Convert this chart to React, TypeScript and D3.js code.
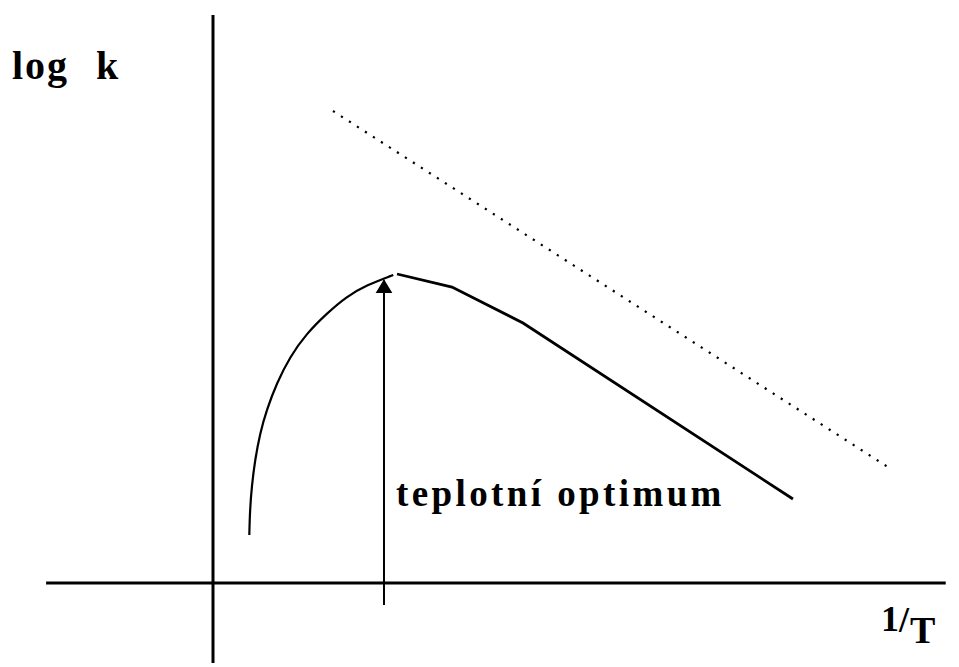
import React, { useEffect, useRef } from "react";
import * as d3 from "d3";

// chart units: x = 1/T, y = log k (arbitrary, axes cross at 0,0)
const riseX = [4.96, 5.05, 5.29, 5.74, 6.42, 7.33, 8.7, 10.52, 12.8, 15.57, 18.2, 20.99, 24.63];
const riseY = [8.45, 12.85, 16.95, 21.65, 26.35, 30.46, 35.16, 39.84, 43.96, 47.48, 50.4, 52.46, 54.23];

const fallX = [25.14, 32.65, 42.35, 79.23];
const fallY = [54.4, 52.11, 45.77, 14.79];

const arrheniusX = [16.39, 92.62];
const arrheniusY = [83.1, 20.07];

const optimumX = 23.36;
const optimumY = [-3.87, 53.3];

const xAxisExtent = [-22.8, 100.1];
const yAxisExtent = [-14.1, 100];

const W = 959;
const H = 667;

const App = () => {
  const ref = useRef<SVGSVGElement>(null);

  useEffect(() => {
    const x = d3.scaleLinear().domain([0, 100]).range([213, 945]);
    const y = d3.scaleLinear().domain([0, 100]).range([583, 15]);

    const svg = d3.select(ref.current);
    svg.selectAll("*").remove();

    // arrow head: 14 long, 18 wide
    svg
      .append("defs")
      .append("marker")
      .attr("id", "head")
      .attr("markerUnits", "userSpaceOnUse")
      .attr("viewBox", "0 0 14 18")
      .attr("refX", 13)
      .attr("refY", 9)
      .attr("markerWidth", 14)
      .attr("markerHeight", 18)
      .attr("orient", "auto")
      .append("path")
      .attr("d", "M0,0.5 L14,9 L0,17.5 Z")
      .attr("fill", "#000");

    // axes
    svg
      .append("line")
      .attr("x1", x(xAxisExtent[0]))
      .attr("x2", x(xAxisExtent[1]))
      .attr("y1", y(0))
      .attr("y2", y(0))
      .attr("stroke", "#000")
      .attr("stroke-width", 3);
    svg
      .append("line")
      .attr("x1", x(0))
      .attr("x2", x(0))
      .attr("y1", y(yAxisExtent[0]))
      .attr("y2", y(yAxisExtent[1]))
      .attr("stroke", "#000")
      .attr("stroke-width", 3);

    const line = d3
      .line<[number, number]>()
      .x((d) => x(d[0]))
      .y((d) => y(d[1]));

    // rising part, smooth
    svg
      .append("path")
      .attr("d", line.curve(d3.curveBasis)(d3.zip(riseX, riseY) as [number, number][]))
      .attr("fill", "none")
      .attr("stroke", "#000")
      .attr("stroke-width", 2.2);

    // falling part, straight segments
    svg
      .append("path")
      .attr("d", line.curve(d3.curveLinear)(d3.zip(fallX, fallY) as [number, number][]))
      .attr("fill", "none")
      .attr("stroke", "#000")
      .attr("stroke-width", 2.8);

    // dotted Arrhenius line
    svg
      .append("path")
      .attr("d", line.curve(d3.curveLinear)(d3.zip(arrheniusX, arrheniusY) as [number, number][]))
      .attr("fill", "none")
      .attr("stroke", "#000")
      .attr("stroke-width", 2.2)
      .attr("stroke-dasharray", "2.2 7.3");

    // optimum arrow
    svg
      .append("line")
      .attr("x1", x(optimumX))
      .attr("x2", x(optimumX))
      .attr("y1", y(optimumY[0]))
      .attr("y2", y(optimumY[1]))
      .attr("stroke", "#000")
      .attr("stroke-width", 2)
      .attr("marker-end", "url(#head)");

    const font = "'Liberation Serif', 'Times New Roman', serif";

    const label = svg
      .append("text")
      .attr("font-family", font)
      .attr("font-weight", "bold")
      .attr("font-size", 40)
      .attr("y", 79);
    label.append("tspan").attr("x", 12).attr("letter-spacing", 2).text("log");
    label.append("tspan").attr("x", 96).text("k");

    const inv = svg
      .append("text")
      .attr("font-family", font)
      .attr("font-weight", "bold");
    inv.append("tspan").attr("x", 881).attr("y", 631).attr("font-size", 36).text("1");
    inv.append("tspan").attr("x", 899).attr("y", 632).attr("font-size", 36).text("/");
    inv.append("tspan").attr("x", 910).attr("y", 643).attr("font-size", 38).text("T");

    svg
      .append("text")
      .attr("x", 396)
      .attr("y", 506)
      .attr("font-family", font)
      .attr("font-weight", "bold")
      .attr("font-size", 37)
      .attr("letter-spacing", 3.4)
      .text("teplotní optimum");
  }, []);

  return (
    <svg
      ref={ref}
      width={W}
      height={H}
      viewBox={`0 0 ${W} ${H}`}
      style={{ position: "absolute", left: 0, top: 0, background: "#fff" }}
    />
  );
};

export default App;
